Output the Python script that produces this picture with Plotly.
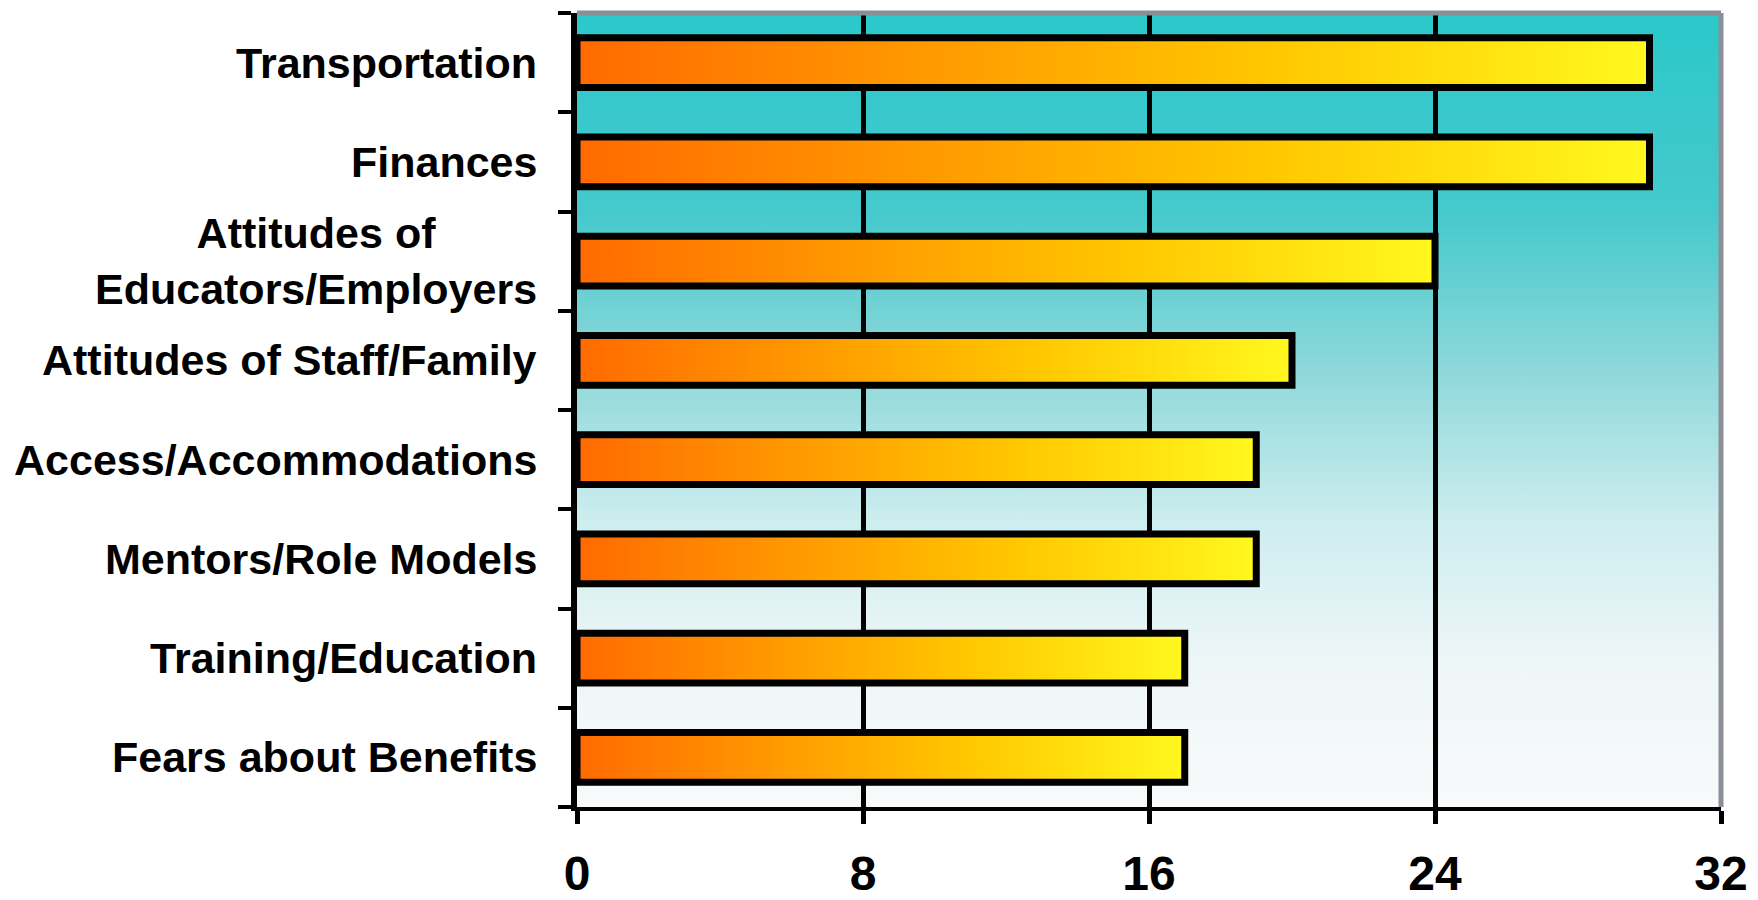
import base64
import plotly.graph_objects as go

# ---- data ----
categories = [
    "Transportation",
    "Finances",
    "Attitudes of<br>Educators/Employers",
    "Attitudes of Staff/Family",
    "Access/Accommodations",
    "Mentors/Role Models",
    "Training/Education",
    "Fears about Benefits",
]
values = [30, 30, 24, 20, 19, 19, 17, 17]
x_ticks = [0, 8, 16, 24, 32]

BAR_HALF = 0.25
FONT = "Liberation Sans, Arial, sans-serif"

fig = go.Figure()

bar_scale = [
    [0.0, "#FF6A00"],
    [0.3, "#FF9600"],
    [0.65, "#FFC800"],
    [1.0, "#FFF81E"],
]

for i, v in enumerate(values):
    fig.add_trace(go.Scatter(
        x=[0, v, v, 0, 0],
        y=[i - BAR_HALF, i - BAR_HALF, i + BAR_HALF, i + BAR_HALF, i - BAR_HALF],
        mode="lines",
        fill="toself",
        fillgradient=dict(type="horizontal", colorscale=bar_scale),
        line=dict(color="black", width=7),
        hoverinfo="skip",
        showlegend=False,
    ))

# category labels (centered multi-line, right-anchored next to the axis)
for i, c in enumerate(categories):
    fig.add_annotation(
        x=0, xref="x domain", y=i, yref="y",
        text=c, showarrow=False, xanchor="right", yanchor="middle",
        align="center", xshift=-38,
        font=dict(family=FONT, size=43, color="black", weight="bold"),
    )

# plot-area background gradient
svg = (
    "<svg xmlns='http://www.w3.org/2000/svg' width='100' height='100' preserveAspectRatio='none'>"
    "<defs><linearGradient id='g' x1='0' y1='0' x2='0' y2='1'>"
    "<stop offset='0' stop-color='#2BC8CA'/>"
    "<stop offset='0.25' stop-color='#45C9CC'/>"
    "<stop offset='0.45' stop-color='#8ED8DA'/>"
    "<stop offset='0.64' stop-color='#CDEDEF'/>"
    "<stop offset='0.82' stop-color='#EEF6F8'/>"
    "<stop offset='1' stop-color='#F8FAFB'/>"
    "</linearGradient></defs>"
    "<rect width='100' height='100' fill='url(#g)'/></svg>"
)
src = "data:image/svg+xml;base64," + base64.b64encode(svg.encode()).decode()
fig.add_layout_image(dict(
    source=src, xref="x domain", yref="y domain", x=0, y=1,
    sizex=1, sizey=1, xanchor="left", yanchor="top",
    sizing="stretch", layer="below",
))

# grey frame on top and right
fig.add_shape(type="line", xref="x domain", yref="y domain", x0=0, x1=1, y0=1, y1=1,
              line=dict(color="#8A8F96", width=5), layer="above")
fig.add_shape(type="line", xref="x domain", yref="y domain", x0=1, x1=1, y0=0, y1=1,
              line=dict(color="#8A8F96", width=5), layer="above")

fig.update_layout(
    width=1758, height=900,
    margin=dict(l=569, r=45, t=5, b=101),
    paper_bgcolor="white",
    plot_bgcolor="rgba(0,0,0,0)",
    showlegend=False,
    xaxis=dict(
        range=[0, 32], tickvals=x_ticks, ticktext=[str(t) for t in x_ticks],
        showgrid=True, gridcolor="black", gridwidth=5, zeroline=False,
        showline=True, linecolor="black", linewidth=4,
        ticks="outside", ticklen=13, tickwidth=5, tickcolor="black",
        ticklabelstandoff=8, automargin=False,
        tickfont=dict(family=FONT, size=48, color="black", weight="bold"),
    ),
    yaxis=dict(
        range=[len(values) - 0.5, -0.5],
        tickvals=[k - 0.5 for k in range(len(values) + 1)],
        showticklabels=False, showgrid=False, zeroline=False,
        showline=True, linecolor="black", linewidth=6,
        ticks="outside", ticklen=13, tickwidth=4, tickcolor="black",
        automargin=False,
    ),
)

fig.write_html("out.html")
